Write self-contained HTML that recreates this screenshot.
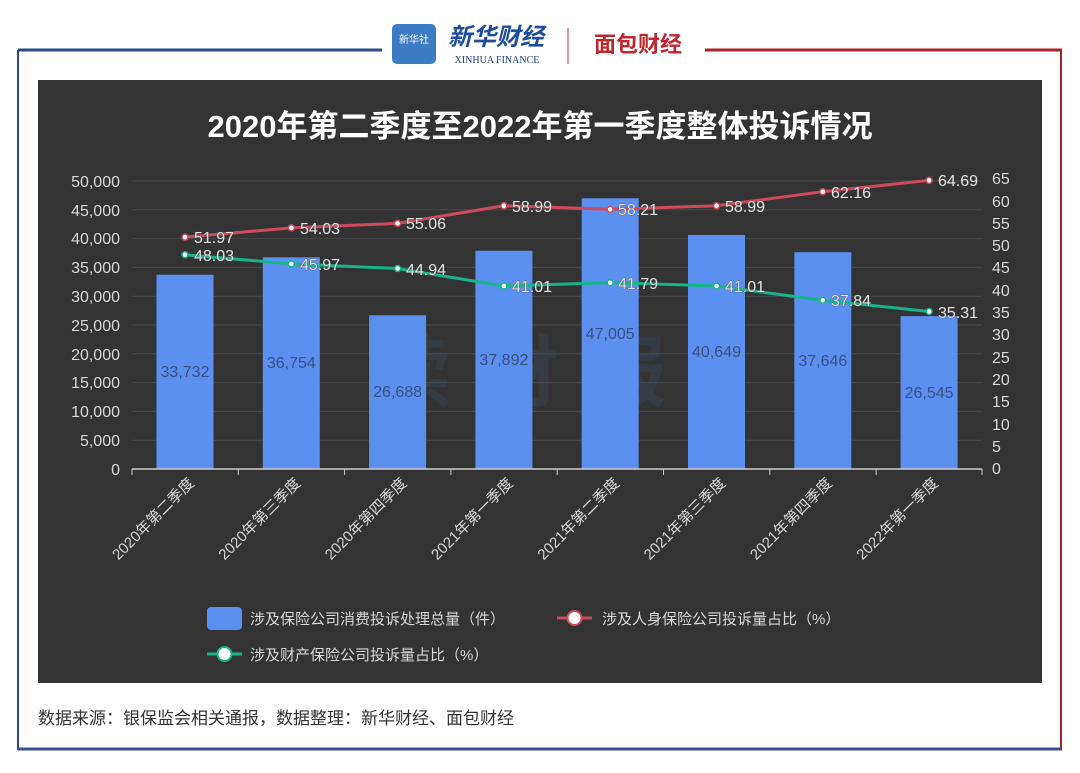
<!DOCTYPE html>
<html><head><meta charset="utf-8"><style>
body{margin:0;width:1080px;height:768px;background:#fff;overflow:hidden;font-family:"Liberation Sans","Noto Sans CJK SC",sans-serif}
</style></head><body>
<svg width="1080" height="768" xmlns="http://www.w3.org/2000/svg" font-family="Liberation Sans, Noto Sans CJK SC, sans-serif">
<line x1="18" y1="50" x2="382" y2="50" stroke="#2b4a8a" stroke-width="3"/>
<line x1="18" y1="50" x2="18" y2="750" stroke="#2b4a8a" stroke-width="2"/>
<line x1="18" y1="749" x2="1062" y2="749" stroke="#3c4f8f" stroke-width="3"/>
<line x1="705" y1="50" x2="1062" y2="50" stroke="#a8222a" stroke-width="3"/>
<line x1="1061" y1="50" x2="1061" y2="748" stroke="#a8222a" stroke-width="2"/>
<rect x="392" y="24" width="44" height="40" rx="5" fill="#3b7cc4"/>
<text x="414" y="43" font-size="10" fill="#fff" text-anchor="middle">新华社</text>
<text x="496" y="45" font-size="24" fill="#1c4c9c" text-anchor="middle" font-style="italic" font-weight="bold">新华财经</text>
<text x="497" y="63" font-size="10" fill="#1c3d7c" text-anchor="middle" font-family="Liberation Serif, serif">XINHUA FINANCE</text>
<line x1="568" y1="28" x2="568" y2="64" stroke="#c33" stroke-width="1"/>
<text x="638" y="52" font-size="22" fill="#c0262e" text-anchor="middle" font-weight="bold">面包财经</text>
<rect x="38" y="80" width="1004" height="603" fill="#333333"/>
<text x="540" y="137" font-size="31" fill="#fff" font-weight="bold" text-anchor="middle">2020年第二季度至2022年第一季度整体投诉情况</text>
<g stroke="#4a4a4a" stroke-width="1">
<line x1="132" y1="181" x2="982" y2="181"/><line x1="132" y1="209.8" x2="982" y2="209.8"/><line x1="132" y1="238.6" x2="982" y2="238.6"/><line x1="132" y1="267.4" x2="982" y2="267.4"/><line x1="132" y1="296.2" x2="982" y2="296.2"/><line x1="132" y1="325" x2="982" y2="325"/><line x1="132" y1="353.8" x2="982" y2="353.8"/><line x1="132" y1="382.6" x2="982" y2="382.6"/><line x1="132" y1="411.4" x2="982" y2="411.4"/><line x1="132" y1="440.2" x2="982" y2="440.2"/>
</g>
<g font-size="16" fill="#d8d8d8" text-anchor="end">
<text x="120" y="187">50,000</text><text x="120" y="216">45,000</text><text x="120" y="244">40,000</text><text x="120" y="273">35,000</text><text x="120" y="302">30,000</text><text x="120" y="331">25,000</text><text x="120" y="360">20,000</text><text x="120" y="388">15,000</text><text x="120" y="417">10,000</text><text x="120" y="446">5,000</text><text x="120" y="475">0</text>
</g>
<g font-size="16" fill="#d8d8d8" text-anchor="start">
<text x="992" y="184">65</text><text x="992" y="207">60</text><text x="992" y="229">55</text><text x="992" y="251">50</text><text x="992" y="273">45</text><text x="992" y="296">40</text><text x="992" y="318">35</text><text x="992" y="340">30</text><text x="992" y="363">25</text><text x="992" y="385">20</text><text x="992" y="407">15</text><text x="992" y="430">10</text><text x="992" y="452">5</text><text x="992" y="474">0</text>
</g>
<text x="535" y="400" font-size="78" fill="#3e4d66" opacity="0.35" text-anchor="middle" font-weight="bold" letter-spacing="30">读财报</text>
<g fill="#5b8ff0">
<rect x="156.5" y="274.7" width="57" height="194.3"/><rect x="262.8" y="257.3" width="57" height="211.7"/><rect x="369.1" y="315.3" width="57" height="153.7"/><rect x="475.4" y="250.7" width="57" height="218.3"/><rect x="581.7" y="198.3" width="57" height="270.7"/><rect x="688" y="234.9" width="57" height="234.1"/><rect x="794.3" y="252.2" width="57" height="216.8"/><rect x="900.6" y="316.1" width="57" height="152.9"/>
</g>
<g font-size="16" fill="#3a4f80" text-anchor="middle">
<text x="185" y="377">33,732</text><text x="291.3" y="368">36,754</text><text x="397.6" y="397">26,688</text><text x="503.9" y="365">37,892</text><text x="610.2" y="339">47,005</text><text x="716.5" y="357">40,649</text><text x="822.8" y="366">37,646</text><text x="929.1" y="398">26,545</text>
</g>
<line x1="132" y1="469" x2="982" y2="469" stroke="#ccc" stroke-width="1.5"/>
<g stroke="#ccc"><line x1="132" y1="469" x2="132" y2="475"/><line x1="238.3" y1="469" x2="238.3" y2="475"/><line x1="344.6" y1="469" x2="344.6" y2="475"/><line x1="450.9" y1="469" x2="450.9" y2="475"/><line x1="557.2" y1="469" x2="557.2" y2="475"/><line x1="663.5" y1="469" x2="663.5" y2="475"/><line x1="769.8" y1="469" x2="769.8" y2="475"/><line x1="876.1" y1="469" x2="876.1" y2="475"/><line x1="982" y1="469" x2="982" y2="475"/></g>
<g font-size="15" fill="#d8d8d8" text-anchor="end">
<text transform="translate(195,484) rotate(-45)">2020年第二季度</text>
<text transform="translate(301.3,484) rotate(-45)">2020年第三季度</text>
<text transform="translate(407.6,484) rotate(-45)">2020年第四季度</text>
<text transform="translate(513.9,484) rotate(-45)">2021年第一季度</text>
<text transform="translate(620.2,484) rotate(-45)">2021年第二季度</text>
<text transform="translate(726.5,484) rotate(-45)">2021年第三季度</text>
<text transform="translate(832.8,484) rotate(-45)">2021年第四季度</text>
<text transform="translate(939.1,484) rotate(-45)">2022年第一季度</text>
</g>
<polyline fill="none" stroke="#d04a5e" stroke-width="3" points="185,237.1 291.3,227.9 397.6,223.4 503.9,205.8 610.2,209.3 716.5,205.8 822.8,191.7 929.1,180.4"/>
<polyline fill="none" stroke="#16b58a" stroke-width="3" points="185,254.7 291.3,263.9 397.6,268.5 503.9,286 610.2,282.6 716.5,286 822.8,300.2 929.1,311.5"/>
<g fill="#fff" stroke="#d04a5e" stroke-width="1.5"><circle cx="185" cy="237.1" r="3"/><circle cx="291.3" cy="227.9" r="3"/><circle cx="397.6" cy="223.4" r="3"/><circle cx="503.9" cy="205.8" r="3"/><circle cx="610.2" cy="209.3" r="3"/><circle cx="716.5" cy="205.8" r="3"/><circle cx="822.8" cy="191.7" r="3"/><circle cx="929.1" cy="180.4" r="3"/></g>
<g fill="#fff" stroke="#16b58a" stroke-width="1.5"><circle cx="185" cy="254.7" r="3"/><circle cx="291.3" cy="263.9" r="3"/><circle cx="397.6" cy="268.5" r="3"/><circle cx="503.9" cy="286" r="3"/><circle cx="610.2" cy="282.6" r="3"/><circle cx="716.5" cy="286" r="3"/><circle cx="822.8" cy="300.2" r="3"/><circle cx="929.1" cy="311.5" r="3"/></g>
<g font-size="16" fill="#e0e0e0" stroke="#444" stroke-width="0.6" paint-order="stroke">
<text x="194" y="243">51.97</text><text x="300" y="234">54.03</text><text x="406" y="229">55.06</text><text x="512" y="212">58.99</text><text x="618" y="215">58.21</text><text x="725" y="212">58.99</text><text x="831" y="198">62.16</text><text x="938" y="186">64.69</text>
<text x="194" y="261">48.03</text><text x="300" y="270">45.97</text><text x="406" y="275">44.94</text><text x="512" y="292">41.01</text><text x="618" y="289">41.79</text><text x="725" y="292">41.01</text><text x="831" y="306">37.84</text><text x="938" y="318">35.31</text>
</g>
<rect x="207" y="607" width="35" height="23" rx="4" fill="#5b8ff0"/>
<text x="250" y="624" font-size="15" fill="#d8d8d8">涉及保险公司消费投诉处理总量（件）</text>
<line x1="557" y1="618" x2="592" y2="618" stroke="#d04a5e" stroke-width="3"/>
<circle cx="574.5" cy="618" r="7" fill="#fff" stroke="#d04a5e" stroke-width="2"/>
<text x="602" y="624" font-size="15" fill="#d8d8d8">涉及人身保险公司投诉量占比（%）</text>
<line x1="207" y1="654" x2="242" y2="654" stroke="#16b58a" stroke-width="3"/>
<circle cx="224.5" cy="654" r="7" fill="#fff" stroke="#16b58a" stroke-width="2"/>
<text x="250" y="660" font-size="15" fill="#d8d8d8">涉及财产保险公司投诉量占比（%）</text>
<text x="38" y="724" font-size="17" fill="#333">数据来源：银保监会相关通报，数据整理：新华财经、面包财经</text>
</svg>
</body></html>
